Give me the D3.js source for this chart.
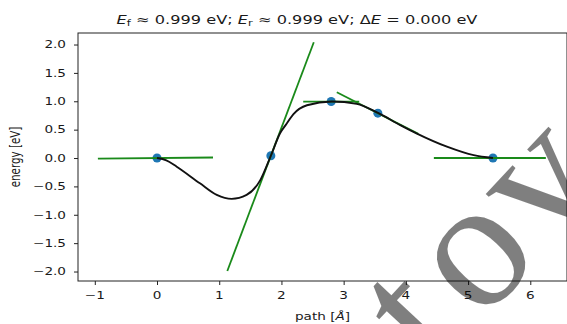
<!DOCTYPE html>
<html>
<head>
<meta charset="utf-8">
<script src="https://cdn.jsdelivr.net/npm/d3@7"></script>
<style>
  html, body { margin: 0; padding: 0; background: #fff; }
  svg { display: block; }
  text { font-family: "DejaVu Sans", sans-serif; fill: #1a1a1a; }
</style>
</head>
<body>
<svg id="chart" width="567" height="324"></svg>
<script>
// NEB band: images along the path, their energies and the fitted curve
const imagePath = [0, 1.83, 2.8, 3.55, 5.4];          // path position of each image [Å]
const imageEnergy = [0, 0.04, 0.995, 0.79, 0];          // energy of each image [eV]
const imageSlope = [0.01, 2.9, 0, -0.56, 0];            // dE/ds at each image
const tangentFrom = [-0.95, 1.13, 2.35, 2.89, 4.45];    // tangent segment start
const tangentTo = [0.90, 2.52, 3.25, 4.20, 6.25];       // tangent segment end

const fitPath = [0, 0.15, 0.317, 0.69, 0.96, 1.2, 1.44, 1.66, 1.83, 1.98, 2.08, 2.19, 2.41, 2.81, 3.21, 3.56, 3.91, 4.17, 4.66, 5.09, 5.4];
const fitEnergy = [0, -0.04, -0.153, -0.446, -0.65, -0.72, -0.65, -0.39, 0.04, 0.44, 0.6, 0.77, 0.93, 0.995, 0.955, 0.79, 0.58, 0.435, 0.2, 0.05, 0];

const xTicks = [-1, 0, 1, 2, 3, 4, 5, 6];
const yTicks = [-2.0, -1.5, -1.0, -0.5, 0.0, 0.5, 1.0, 1.5, 2.0];

// overlay lettering: glyph and its offset along the slanted baseline
const markGlyphs = ["t", "o", "v"];
const markOffsets = [49, 137.7, 235.5];

const svg = d3.select("#chart");
const m = { left: 78, right: 567, top: 33, bottom: 281 };
const squash = 0.76;   // glyphs of this figure are compressed vertically

const x = d3.scaleLinear().domain([-1.27, 6.59]).range([m.left, m.right]);
const y = d3.scaleLinear().domain([-2.167, 2.203]).range([m.bottom, m.top]);

const fmtX = v => (v < 0 ? "\u2212" : "") + Math.abs(v);
const fmtY = v => (v < 0 ? "\u2212" : "") + Math.abs(v).toFixed(1);

// frame
svg.append("rect")
  .attr("x", m.left).attr("y", m.top)
  .attr("width", m.right - m.left).attr("height", m.bottom - m.top)
  .attr("fill", "none").attr("stroke", "#222").attr("stroke-width", 1);

// x axis ticks
const xAxis = d3.axisBottom(x).tickValues(xTicks).tickSize(4).tickFormat(() => "");
const gx = svg.append("g").attr("transform", `translate(0,${m.bottom})`).call(xAxis);
gx.select(".domain").remove();
gx.selectAll("line").attr("stroke", "#222");
xTicks.forEach(v => {
  svg.append("text")
    .attr("transform", `translate(${x(v)},${m.bottom + 18}) scale(1,${squash})`)
    .attr("text-anchor", "middle").attr("font-size", 13.6)
    .text(fmtX(v));
});

// y axis ticks
const yAxis = d3.axisLeft(y).tickValues(yTicks).tickSize(4).tickFormat(() => "");
const gy = svg.append("g").attr("transform", `translate(${m.left},0)`).call(yAxis);
gy.select(".domain").remove();
gy.selectAll("line").attr("stroke", "#222");
yTicks.forEach(v => {
  svg.append("text")
    .attr("transform", `translate(${m.left - 12},${y(v) + 3.8}) scale(1,${squash})`)
    .attr("text-anchor", "end").attr("font-size", 13.6)
    .text(fmtY(v));
});

// axis labels
const xl = svg.append("text")
  .attr("transform", `translate(${(m.left + m.right) / 2},${m.bottom + 39}) scale(1,${squash})`)
  .attr("text-anchor", "middle").attr("font-size", 13.6);
xl.append("tspan").text("path [");
xl.append("tspan").attr("font-style", "italic").text("\u00C5");
xl.append("tspan").text("]");

svg.append("text")
  .attr("transform", `translate(20,${(m.top + m.bottom) / 2}) scale(1,${squash}) rotate(-90)`)
  .attr("text-anchor", "middle").attr("font-size", 13.6)
  .text("energy [eV]");

// title
const title = svg.append("text")
  .attr("transform", `translate(297,24) scale(1,${squash})`)
  .attr("text-anchor", "middle").attr("font-size", 16.2);
title.append("tspan").attr("font-style", "italic").text("E");
title.append("tspan").attr("font-size", 11.5).attr("dy", 3).text("f");
title.append("tspan").attr("dy", -3).text(" \u2248  0.999 eV; ");
title.append("tspan").attr("font-style", "italic").text("E");
title.append("tspan").attr("font-size", 11.5).attr("dy", 3).text("r");
title.append("tspan").attr("dy", -3).text(" \u2248  0.999 eV; \u0394");
title.append("tspan").attr("font-style", "italic").text("E");
title.append("tspan").text(" = 0.000 eV");

const plot = svg.append("g");

// images
plot.selectAll("circle").data(imagePath).join("circle")
  .attr("cx", d => x(d))
  .attr("cy", (d, i) => y(imageEnergy[i]))
  .attr("r", 4.5)
  .attr("fill", "#1f77b4");

// tangents from the forces at each image
plot.selectAll("line.tan").data(imagePath).join("line")
  .attr("class", "tan")
  .attr("x1", (d, i) => x(tangentFrom[i]))
  .attr("x2", (d, i) => x(tangentTo[i]))
  .attr("y1", (d, i) => y(imageEnergy[i] + imageSlope[i] * (tangentFrom[i] - d)))
  .attr("y2", (d, i) => y(imageEnergy[i] + imageSlope[i] * (tangentTo[i] - d)))
  .attr("stroke", "#1a8a1a").attr("stroke-width", 1.8);

// fitted band
const line = d3.line()
  .x(d => x(d[0])).y(d => y(d[1]))
  .curve(d3.curveMonotoneX);
plot.append("path")
  .datum(fitPath.map((s, i) => [s, fitEnergy[i]]))
  .attr("d", line)
  .attr("fill", "none").attr("stroke", "#111").attr("stroke-width", 1.9);

// large translucent serif lettering on a baseline slanted up to the right
const angle = -47 * Math.PI / 180;
const along = [Math.cos(angle), Math.sin(angle)];
const up = [Math.sin(angle), -Math.cos(angle)];
const baseLevel = -572;
const mark = svg.append("g");
markGlyphs.forEach((ch, i) => {
  const px = markOffsets[i] * along[0] + baseLevel * up[0];
  const py = markOffsets[i] * along[1] + baseLevel * up[1];
  mark.append("text")
    .attr("transform", `translate(${px},${py}) rotate(-47)`)
    .attr("text-anchor", "middle")
    .attr("font-size", 184)
    .style("fill", "#000").style("fill-opacity", 0.5)
    .style("font-family", "'Liberation Serif', serif")
    .text(ch);
});
</script>
</body>
</html>
